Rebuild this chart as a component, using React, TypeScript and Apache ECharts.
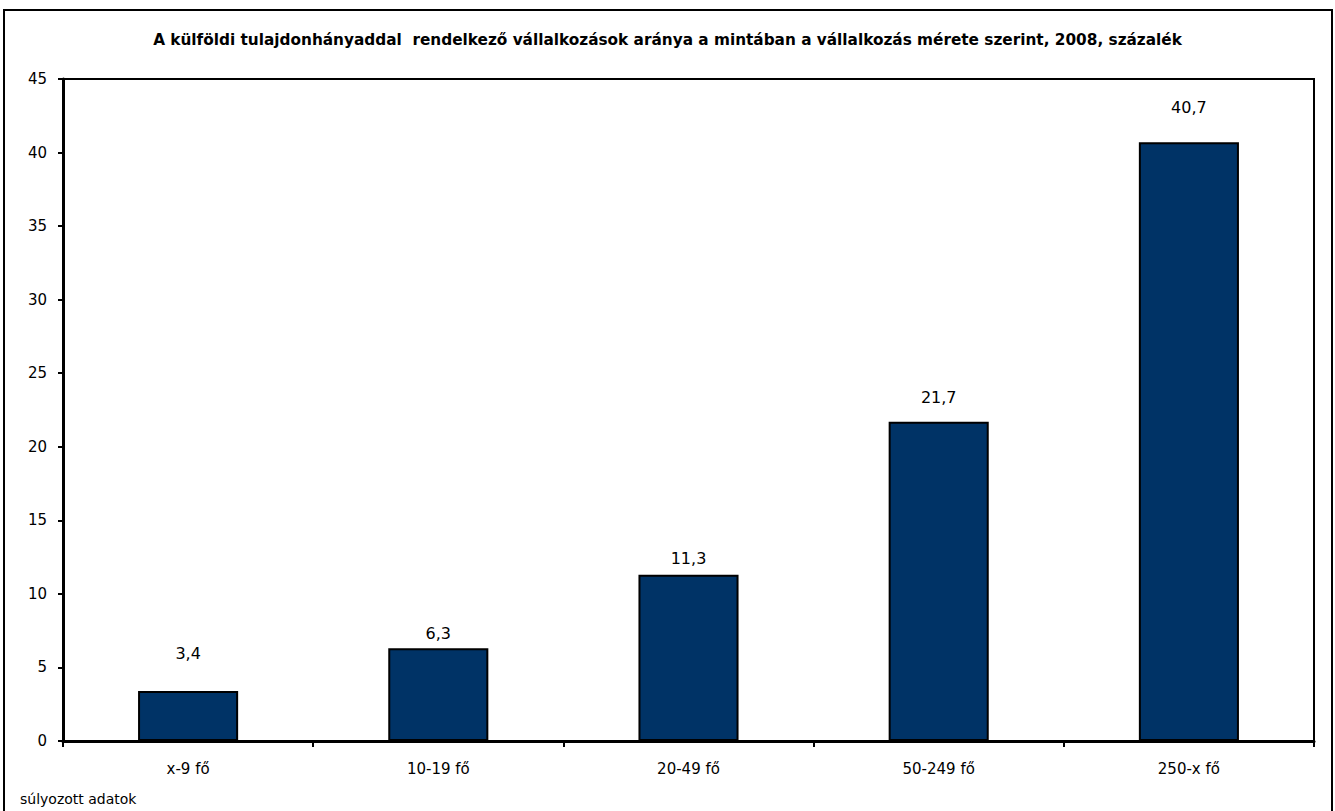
import React, { useEffect, useRef } from "react";
import * as echarts from "echarts";

const titleText =
  "A külföldi tulajdonhányaddal  rendelkező vállalkozások aránya a mintában a vállalkozás mérete szerint, 2008, százalék";
const footnote = "súlyozott adatok";
const categories = ["x-9 fő", "10-19 fő", "20-49 fő", "50-249 fő", "250-x fő"];
const values = [3.4, 6.3, 11.3, 21.7, 40.7];
const labelGap = [29, 7, 8, 16, 27];
const yMin = 0;
const yMax = 45;
const yStep = 5;

export default function App() {
  const ref = useRef<HTMLDivElement>(null);
  useEffect(() => {
    if (!ref.current) return;
    const chart = echarts.init(ref.current, undefined, { renderer: "svg" });
    const font = "'DejaVu Sans', 'Liberation Sans', Arial, sans-serif";
    chart.setOption({
      animation: false,
      backgroundColor: "#fff",
      textStyle: { fontFamily: font },
      title: {
        text: titleText,
        left: "center",
        top: 27,
        textStyle: { fontSize: 15.3, fontWeight: "bold", color: "#000", fontFamily: font },
      },
      graphic: [
        {
          type: "rect",
          shape: { x: 4, y: 10, width: 1328, height: 830 },
          style: { fill: "none", stroke: "#000", lineWidth: 2 },
          silent: true,
        },
        {
          type: "text",
          left: 20,
          top: 792,
          style: { text: footnote, fontSize: 14, fill: "#000", fontFamily: font },
        },
      ],
      grid: {
        left: 63,
        right: 21,
        top: 79,
        bottom: 70,
        show: true,
        borderColor: "#000",
        borderWidth: 2,
        containLabel: false,
      },
      xAxis: {
        type: "category",
        data: categories,
        axisLine: { show: true, lineStyle: { color: "#000", width: 3 } },
        axisTick: { show: true, length: 6, lineStyle: { color: "#000", width: 2 }, alignWithLabel: false },
        axisLabel: { color: "#000", fontSize: 15, margin: 20, fontFamily: font },
        splitLine: { show: false },
      },
      yAxis: {
        type: "value",
        min: yMin,
        max: yMax,
        interval: yStep,
        axisLine: { show: true, lineStyle: { color: "#000", width: 3 } },
        axisTick: { show: true, length: 5, lineStyle: { color: "#000", width: 2 } },
        axisLabel: { color: "#000", fontSize: 15, margin: 16, fontFamily: font },
        splitLine: { show: false },
      },
      series: [
        {
          type: "bar",
          barWidth: "40%",
          data: values.map((v, i) => ({
            value: v,
            label: { distance: labelGap[i] },
          })),
          itemStyle: { color: "#003366", borderColor: "#000", borderWidth: 2 },
          label: {
            show: true,
            position: "top",
            color: "#000",
            fontSize: 16,
            fontFamily: font,
            formatter: (p: any) => String(p.value).replace(".", ","),
          },
        },
      ],
    });
    return () => chart.dispose();
  }, []);
  return (
    <div
      ref={ref}
      style={{ position: "fixed", left: 0, top: 0, width: 1335, height: 811 }}
    />
  );
}
